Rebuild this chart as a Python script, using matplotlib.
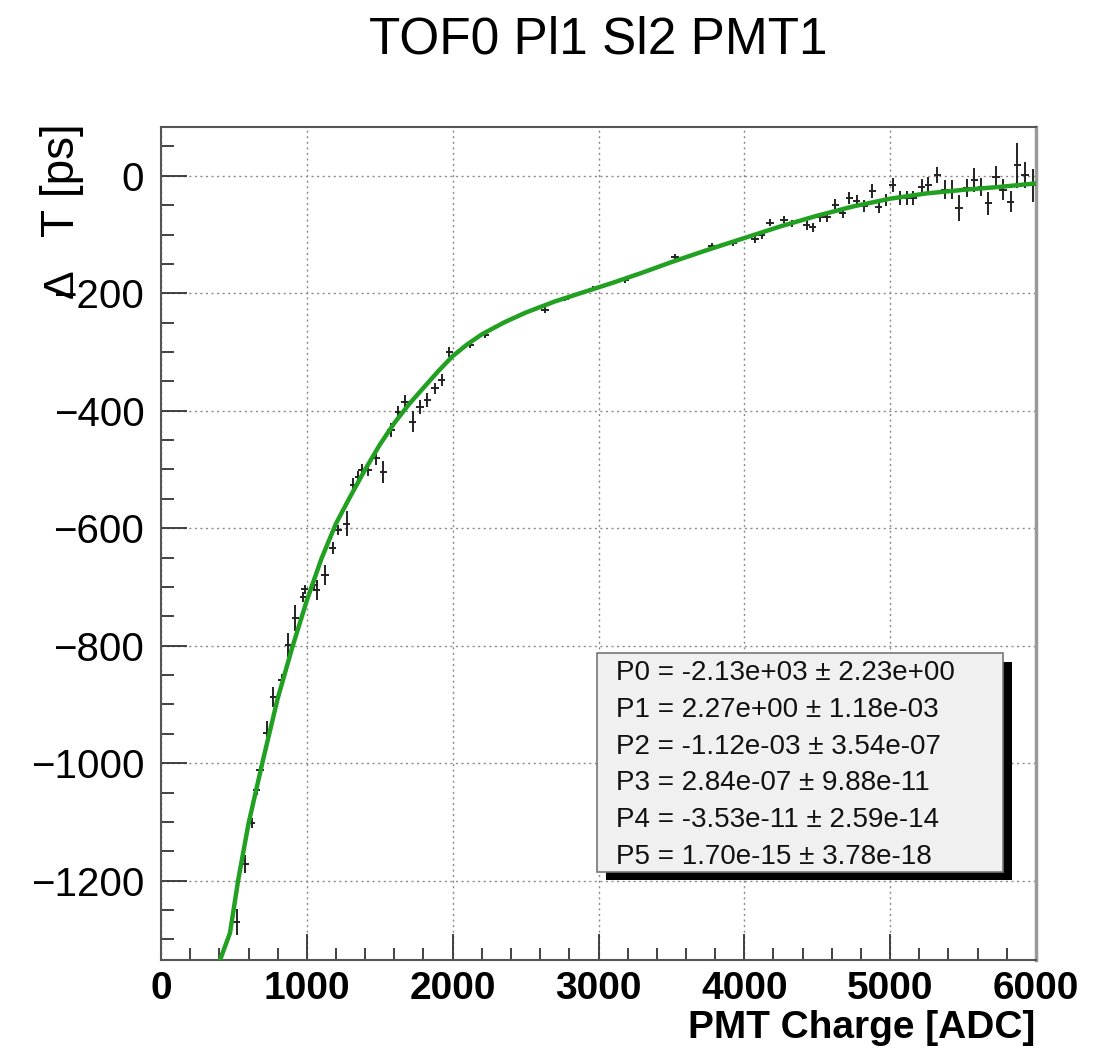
import numpy as np
import matplotlib
matplotlib.use('Agg')
import matplotlib.pyplot as plt
from matplotlib.patches import Rectangle
from matplotlib.ticker import MultipleLocator

plt.rcParams['font.family'] = ['Liberation Sans', 'DejaVu Sans']

# ── datos: puntos medidos (carga ADC, delta T ps, error ps) ──
carga = [520, 576, 622, 656, 679, 724, 771, 828, 873, 921, 977, 984, 1049,
         1068, 1125, 1177, 1216, 1273, 1319, 1353, 1376, 1422, 1475, 1524,
         1577, 1628, 1673, 1726, 1776, 1826, 1879, 1925, 1977, 2119, 2222,
         2634, 2771, 2965, 3182, 3525, 3777, 3925, 4074, 4120, 4177, 4273,
         4326, 4428, 4469, 4520, 4566, 4623, 4675, 4721, 4771, 4822, 4877,
         4921, 4973, 5018, 5069, 5114, 5160, 5217, 5262, 5324, 5377, 5423,
         5473, 5526, 5576, 5624, 5674, 5725, 5773, 5827, 5873, 5925, 5976]
delta_t = [-1270, -1172, -1102, -1046, -1012, -949, -887, -858, -799, -753,
           -717, -704, -697, -705, -680, -634, -603, -592, -526, -512, -501,
           -501, -480, -504, -433, -402, -385, -419, -393, -382, -362, -348,
           -300, -288, -271, -229, -209, -192, -178, -139, -120, -114, -108,
           -101, -80, -75, -81, -84, -88, -71, -70, -50, -64, -38, -43, -52,
           -26, -54, -41, -16, -38, -38, -38, -19, -16, 1, -24, -24, -55, -21,
           -7, -19, -47, -2, -24, -44, 18, 1, -16]
error_t = [22, 15, 8, 8, 8, 20, 17, 10, 20, 22, 8, 8, 8, 17, 17, 10, 8, 21,
           12, 10, 10, 10, 12, 19, 12, 10, 12, 18, 12, 12, 10, 10, 8, 5, 5,
           5, 5, 5, 5, 5, 5, 5, 6, 6, 6, 6, 6, 8, 8, 8, 8, 10, 8, 10, 10, 10,
           12, 10, 10, 12, 12, 12, 12, 14, 14, 14, 16, 16, 22, 16, 20, 16, 20,
           18, 18, 18, 38, 22, 28]

# curva del ajuste pol5
fit_x = [405, 473, 530, 600, 700, 800, 900, 1000, 1100, 1200, 1300, 1400,
         1500, 1600, 1700, 1800, 1900, 2000, 2100, 2200, 2350, 2500, 2700,
         2900, 3100, 3300, 3500, 3750, 4000, 4250, 4500, 4750, 5000, 5250,
         5500, 5750, 6000]
fit_y = [-1335, -1289, -1198, -1103, -994, -890, -803, -723, -652, -592,
         -545, -500, -458, -421, -389, -361, -333, -307, -287, -270, -250,
         -233, -214, -198, -182, -165, -147, -126, -106, -86, -68, -52, -39,
         -30, -24, -19, -13]

parametros = [
    'P0 = -2.13e+03 ± 2.23e+00',
    'P1 = 2.27e+00 ± 1.18e-03',
    'P2 = -1.12e-03 ± 3.54e-07',
    'P3 = 2.84e-07 ± 9.88e-11',
    'P4 = -3.53e-11 ± 2.59e-14',
    'P5 = 1.70e-15 ± 3.78e-18',
]

W, H = 1108, 1053
fig = plt.figure(figsize=(W / 100, H / 100), dpi=100)
ax = fig.add_axes([161 / W, 1 - 960 / H, (1036 - 161) / W, (960 - 127) / H])

ax.errorbar(carga, delta_t, yerr=error_t, xerr=25, fmt='none',
            ecolor='#222222', elinewidth=1.4, capsize=0, zorder=3)
ax.plot(fit_x, fit_y, color='#22a022', lw=3.2, zorder=4,
        solid_joinstyle='round')

ax.set_xlim(0, 6000)
ax.set_ylim(-1335, 83)
ax.xaxis.set_major_locator(MultipleLocator(1000))
ax.xaxis.set_minor_locator(MultipleLocator(200))
ax.yaxis.set_major_locator(MultipleLocator(200))
ax.yaxis.set_minor_locator(MultipleLocator(50))
ax.tick_params(which='both', direction='in', top=False, right=False,
               color='#333333', width=1.3)
ax.tick_params(which='major', length=19)
ax.tick_params(which='minor', length=9)
ax.tick_params(axis='x', which='major', labelsize=28, pad=8)
ax.tick_params(axis='y', which='major', labelsize=29, pad=12)
for lab in ax.get_xticklabels():
    lab.set_fontweight('bold')
ax.grid(True, which='major', ls=(0, (1.5, 2.5)), color='#8a8a8a', lw=1.0)

for s in ax.spines.values():
    s.set_color('#555555')
    s.set_linewidth(1.5)
ax.spines['right'].set_color('#999999')
ax.spines['right'].set_linewidth(2.5)

fig.text(598 / W, 1 - 40 / H, 'TOF0 Pl1 Sl2 PMT1', ha='center', va='center',
         fontsize=37)
fig.text(1035 / W, 1 - 1028 / H, 'PMT Charge [ADC]', ha='right', va='center',
         fontsize=28, fontweight='bold')
fig.text(62 / W, 1 - 123 / H, 'T [ps]', ha='center', va='top', rotation=90,
         fontsize=33)
fig.text(62 / W, 1 - 284 / H, 'Δ', ha='center', va='center', rotation=90,
         fontsize=31)

# caja de parámetros con sombra
fig.patches.append(Rectangle((606 / W, 1 - 880 / H), 406 / W, 218 / H,
                             transform=fig.transFigure, facecolor='black',
                             edgecolor='none', zorder=5))
fig.patches.append(Rectangle((597 / W, 1 - 872 / H), 406 / W, 219 / H,
                             transform=fig.transFigure, facecolor='#f0f0f0',
                             edgecolor='#777777', lw=1.2, zorder=6))
for i, txt in enumerate(parametros):
    fig.text(616 / W, 1 - (673 + 36.8 * i) / H, txt, ha='left', va='center',
             fontsize=20, color='#111111', zorder=7)

fig.savefig('out.png', dpi=100)
